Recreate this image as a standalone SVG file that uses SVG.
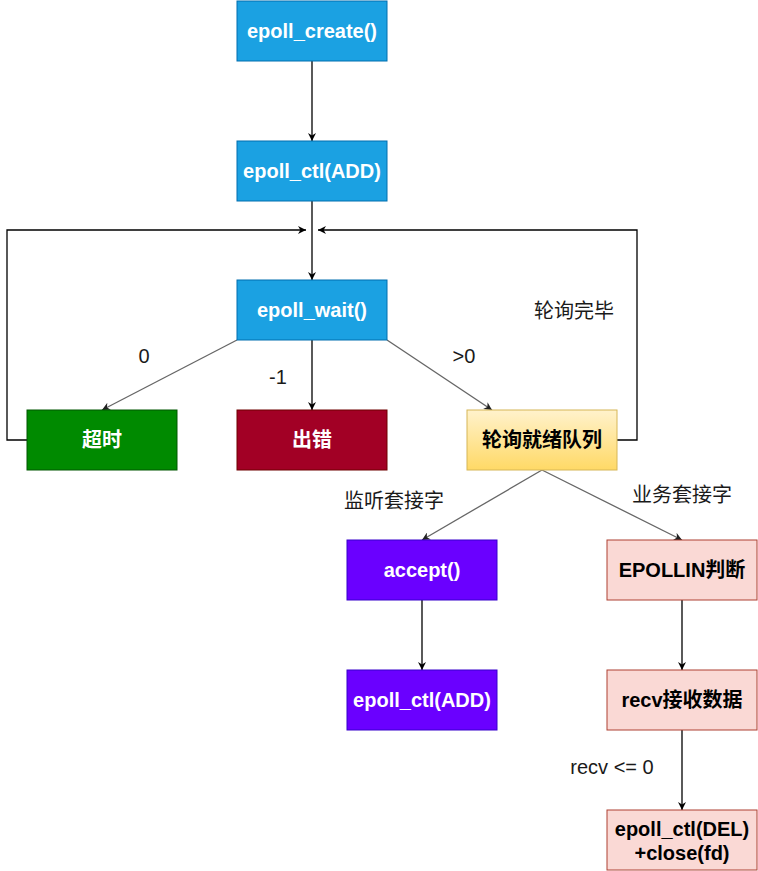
<svg xmlns="http://www.w3.org/2000/svg" width="758" height="871" viewBox="0 0 758 871">
<defs>
<linearGradient id="gy" x1="0" y1="0" x2="0" y2="1">
<stop offset="0" stop-color="#fff2cc"/>
<stop offset="1" stop-color="#ffd966"/>
</linearGradient>
<marker id="ah" viewBox="0 0 10 10" refX="10" refY="5" markerWidth="8" markerHeight="8" markerUnits="userSpaceOnUse" orient="auto">
<path d="M0,0 L10,5 L0,10 L3,5 Z" fill="#000"/>
</marker>
<marker id="ahg" viewBox="0 0 10 10" refX="10" refY="5" markerWidth="8" markerHeight="8" markerUnits="userSpaceOnUse" orient="auto">
<path d="M0,0 L10,5 L0,10 L3,5 Z" fill="#222"/>
</marker>
</defs>
<style>
text{font-family:"Liberation Sans",Arial,"Noto Sans CJK SC",sans-serif;font-size:20px;text-anchor:middle}
.b{font-weight:bold}
.w{fill:#fff}
.k{fill:#000}
.lbl{fill:#1a1a1a}
.e{fill:none;stroke:#000;stroke-width:1.3;marker-end:url(#ah)}
.eg{fill:none;stroke:#666;stroke-width:1.3;marker-end:url(#ahg)}
.blue{fill:#1ba1e2;stroke:#006eaf}
.green{fill:#008a00;stroke:#005700}
.red{fill:#a20025;stroke:#6f0000}
.yel{fill:url(#gy);stroke:#d6b656}
.pur{fill:#6a00ff;stroke:#3700cc}
.pink{fill:#fad9d5;stroke:#ae4132}
</style>
<rect width="758" height="871" fill="#fff"/>
<g id="connectors">
<path class="e" d="M312,61 L312,141"/>
<path class="e" d="M312,201 L312,280"/>
<path class="e" d="M27,440 L7,440 L7,230 L306,230"/>
<path class="e" d="M617,440 L637,440 L637,230 L318,230"/>
<path class="eg" d="M237,340 L102,410"/>
<path class="e" d="M312,340 L312,410"/>
<path class="eg" d="M387,340 L492,410"/>
<path class="eg" d="M542,470 L422,540"/>
<path class="eg" d="M542,470 L682,540"/>
<path class="e" d="M422,600 L422,670"/>
<path class="e" d="M682,600 L682,670"/>
<path class="e" d="M682,730 L682,810"/>
<text class="lbl" x="144" y="363">0</text>
<text class="lbl" x="278" y="384">-1</text>
<text class="lbl" x="464" y="363">&gt;0</text>
<text class="lbl" x="574" y="318">轮询完毕</text>
<text class="lbl" x="394" y="508">监听套接字</text>
<text class="lbl" x="682" y="502">业务套接字</text>
<text class="lbl" x="612" y="774">recv &lt;= 0</text>
</g>
<g id="n-create"><rect class="blue" x="237" y="1" width="150" height="60"/><text class="b w" x="312" y="38">epoll_create()</text></g>
<g id="n-ctl-add"><rect class="blue" x="237" y="141" width="150" height="60"/><text class="b w" x="312" y="178">epoll_ctl(ADD)</text></g>
<g id="n-wait"><rect class="blue" x="237" y="280" width="150" height="60"/><text class="b w" x="312" y="317">epoll_wait()</text></g>
<g id="n-timeout"><rect class="green" x="27" y="410" width="150" height="60"/><text class="b w" x="102" y="447">超时</text></g>
<g id="n-error"><rect class="red" x="237" y="410" width="150" height="60"/><text class="b w" x="312" y="447">出错</text></g>
<g id="n-poll"><rect class="yel" x="467" y="410" width="150" height="60"/><text class="b k" x="542" y="447">轮询就绪队列</text></g>
<g id="n-accept"><rect class="pur" x="347" y="540" width="150" height="60"/><text class="b w" x="422" y="577">accept()</text></g>
<g id="n-ctl-add2"><rect class="pur" x="347" y="670" width="150" height="60"/><text class="b w" x="422" y="707">epoll_ctl(ADD)</text></g>
<g id="n-epollin"><rect class="pink" x="607" y="540" width="150" height="60"/><text class="b k" x="682" y="577">EPOLLIN判断</text></g>
<g id="n-recv"><rect class="pink" x="607" y="670" width="150" height="60"/><text class="b k" x="682" y="707">recv接收数据</text></g>
<g id="n-del"><rect class="pink" x="607" y="810" width="150" height="60"/><text class="b k" x="682" y="836">epoll_ctl(DEL)</text><text class="b k" x="682" y="860">+close(fd)</text></g>
</svg>
